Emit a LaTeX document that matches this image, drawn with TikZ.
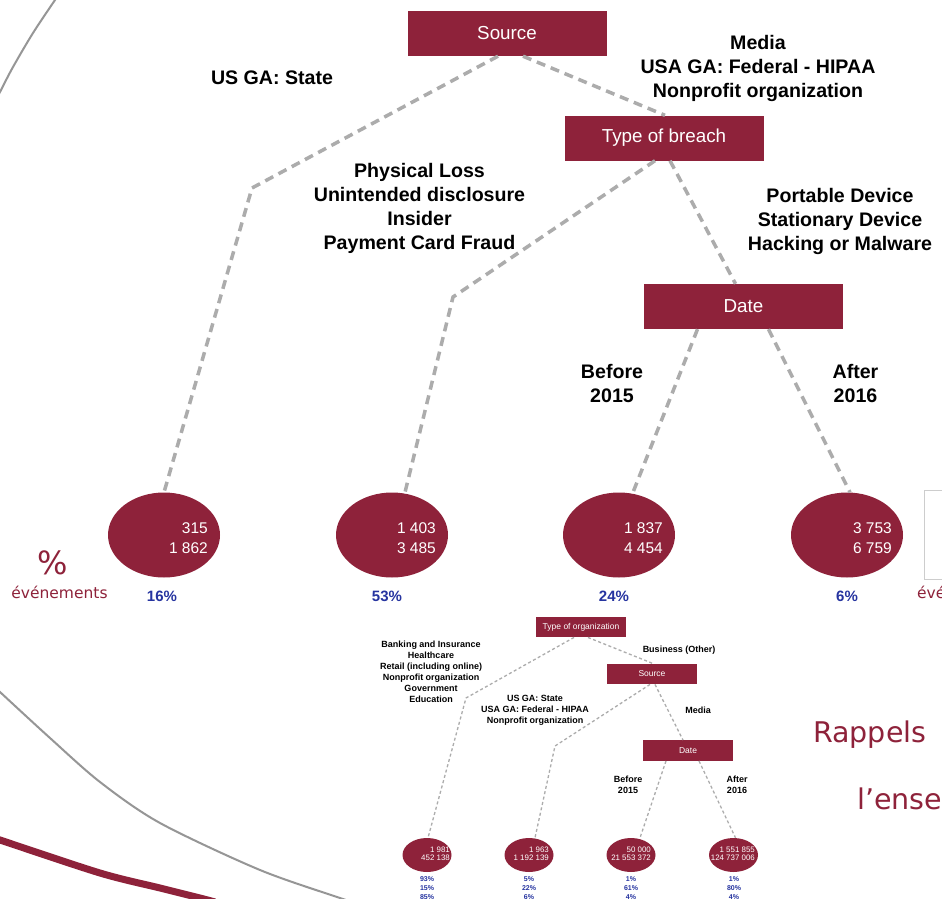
\documentclass[tikz,border=0pt]{standalone}
\usepackage{fontspec}
\setmainfont{Liberation Sans}
\newfontfamily\verd{DejaVu Sans}
\usetikzlibrary{shapes.geometric,calc}

\definecolor{crimson}{RGB}{142,34,58}
\definecolor{dashgray}{RGB}{172,172,172}
\definecolor{arcgray}{RGB}{150,150,150}
\definecolor{pctblue}{RGB}{38,52,160}
\definecolor{framegray}{RGB}{205,205,205}

\tikzset{
  box/.style={fill=crimson, text=white, minimum width=199, minimum height=45,
    inner sep=0, font=\fontsize{18.8}{21}\selectfont},
  sbox/.style={fill=crimson, text=white, minimum width=90, minimum height=20.5,
    inner sep=0, font=\fontsize{8.5}{10}\selectfont},
  leaf/.style={ellipse, fill=crimson, minimum width=112, minimum height=85, inner sep=0},
  sleaf/.style={ellipse, fill=crimson, minimum width=49, minimum height=34, inner sep=0},
  conn/.style={draw=dashgray, line width=3.5, dash pattern=on 9 off 6},
  sconn/.style={draw=dashgray, line width=1.3, dash pattern=on 3 off 2.5},
  lbl/.style={anchor=north, inner sep=0, align=center,
    font=\bfseries\fontsize{19.6}{24}\selectfont},
  slbl/.style={anchor=north, inner sep=0, align=center,
    font=\bfseries\fontsize{9}{11}\selectfont},
  num/.style={anchor=north east, inner sep=0, align=right, text=white,
    font=\fontsize{15.5}{20}\selectfont},
  snum/.style={anchor=north east, inner sep=0, align=right, text=white,
    font=\fontsize{7.9}{8.2}\selectfont},
  pct/.style={anchor=base, inner sep=0, text=pctblue,
    font=\bfseries\fontsize{15}{18}\selectfont},
  spct/.style={anchor=north, inner sep=0, align=center, text=pctblue,
    font=\bfseries\fontsize{7}{9}\selectfont},
  side/.style={inner sep=0, text=crimson, font=\verd},
}

\begin{document}
\begin{tikzpicture}[x=1pt, y=-1pt]
\useasboundingbox (0,0) rectangle (942,899);
\fill[white] (0,0) rectangle (942,899);
\clip (0,0) rectangle (942,899);

% background sweeps
\draw[arcgray, line width=2] plot[smooth] coordinates
  {(62,-10) (55,0) (33,33) (13,67) (0,92) (-5,102)};
\draw[arcgray, line width=2] plot[smooth] coordinates
  {(-6,686) (0,692) (50,738) (100,782) (160,823) (260,870) (343,899) (360,905)};
\draw[crimson, line width=7] plot[smooth] coordinates
  {(-6,838) (0,840) (100,873) (160,888) (200,898) (215,902)};

% side captions
\node[side, anchor=base, font=\verd\fontsize{32}{34}\selectfont] (pcthead) at (52.5,574) {\%};
\node[side, anchor=base, font=\verd\fontsize{15.5}{18}\selectfont] (evtleft) at (59.5,598) {événements};
\draw[framegray, line width=0.8] (924.5,490.5) rectangle (950,579.5);
\node[side, anchor=base west, font=\verd\fontsize{15.5}{18}\selectfont] (evtright) at (917,598) {événements};
\node[side, anchor=base west, font=\verd\fontsize{28.5}{30}\selectfont] (rappels) at (813,742) {Rappels};
\node[side, anchor=base west, font=\verd\fontsize{28.5}{30}\selectfont] (ensemble) at (857,809) {l’ense};

% ---------------- main tree ----------------
\node[box] (source) at (507,33.5) {Source};
\node[box] (breach) at (664,138) {Type of breach};
\node[box] (date) at (743.5,306.5) {Date};

\node[leaf] (e1) at (164,535) {};
\node[leaf] (e2) at (392,535) {};
\node[leaf] (e3) at (619,535) {};
\node[leaf] (e4) at (847,535) {};

\node[num] (n1) at (208,522) {315\\1 862};
\node[num] (n2) at (436,522) {1 403\\3 485};
\node[num] (n3) at (663,522) {1 837\\4 454};
\node[num] (n4) at (892,522) {3 753\\6 759};

\node[pct] (p1) at (162,601) {16\%};
\node[pct] (p2) at (387,601) {53\%};
\node[pct] (p3) at (614,601) {24\%};
\node[pct] (p4) at (847,601) {6\%};

\node[lbl] (lstate) at (272,71) {US GA: State};
\node[lbl] (lmedia) at (758,35) {Media\\USA GA: Federal - HIPAA\\Nonprofit organization};
\node[lbl] (lloss) at (419.5,163) {Physical Loss\\Unintended disclosure\\Insider\\Payment Card Fraud};
\node[lbl] (ldevice) at (840,188) {Portable Device\\Stationary Device\\Hacking or Malware};
\node[lbl] (lbefore) at (612,364) {Before\\2015};
\node[lbl] (lafter) at (855.5,364) {After\\2016};

\coordinate (b1) at (252,188);
\coordinate (b2) at (453,297);
\draw[conn] ($(source.south)+(-9,0)$) -- (b1) -- (e1.north);
\draw[conn] ($(source.south)+(16,0)$) -- ($(breach.north)+(1,0)$);
\draw[conn] ($(breach.south)+(-9,0)$) -- (b2) -- ($(e2.north)+(13,0)$);
\draw[conn] ($(breach.south)+(6,0)$) -- ($(date.north)+(-8,0)$);
\draw[conn] ($(date.south)+(-46,0)$) -- ($(e3.north)+(14,0)$);
\draw[conn] ($(date.south)+(25,0)$) -- ($(e4.north)+(3,0)$);

% ---------------- small tree ----------------
\node[sbox] (sorg) at (581,627) {Type of organization};
\node[sbox] (ssrc) at (652,674) {Source};
\node[sbox] (sdate) at (688,750.5) {Date};

\node[sleaf] (s1) at (427,855) {};
\node[sleaf] (s2) at (529,855) {};
\node[sleaf] (s3) at (631,855) {};
\node[sleaf] (s4) at (733.5,855) {};

\node[snum] (sn1) at (450,847) {1 981\\452 138};
\node[snum] (sn2) at (549,847) {1 963\\1 192 139};
\node[snum] (sn3) at (651,847) {50 000\\21 553 372};
\node[snum] (sn4) at (755,847) {1 551 855\\124 737 006};

\node[spct] (sp1) at (427,876) {93\%\\15\%\\85\%};
\node[spct] (sp2) at (529,876) {5\%\\22\%\\6\%};
\node[spct] (sp3) at (631,876) {1\%\\61\%\\4\%};
\node[spct] (sp4) at (734,876) {1\%\\80\%\\4\%};

\node[slbl] (sbank) at (431,641) {Banking and Insurance\\Healthcare\\Retail (including online)\\Nonprofit organization\\Government\\Education};
\node[slbl] (sbiz) at (679,646) {Business (Other)};
\node[slbl] (sstate) at (535,695) {US GA: State\\USA GA: Federal - HIPAA\\Nonprofit organization};
\node[slbl] (smedia) at (698,707) {Media};
\node[slbl] (sbefore) at (628,776) {Before\\2015};
\node[slbl] (safter) at (737,776) {After\\2016};

\coordinate (sb1) at (466,698);
\coordinate (sb2) at (555,746);
\draw[sconn] ($(sorg.south)+(-7,0)$) -- (sb1) -- ($(s1.north)+(1,0)$);
\draw[sconn] ($(sorg.south)+(7,0)$) -- ($(ssrc.north)+(1,0)$);
\draw[sconn] ($(ssrc.south)+(-2,0)$) -- (sb2) -- ($(s2.north)+(6,0)$);
\draw[sconn] ($(ssrc.south)+(3,0)$) -- ($(sdate.north)+(-5,0)$);
\draw[sconn] ($(sdate.south)+(-22,0)$) -- ($(s3.north)+(9,0)$);
\draw[sconn] ($(sdate.south)+(11,0)$) -- ($(s4.north)+(2,0)$);
\end{tikzpicture}
\end{document}
